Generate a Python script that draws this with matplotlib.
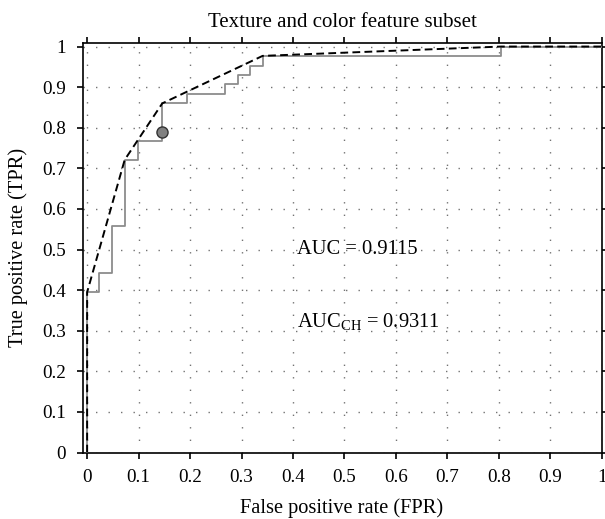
import matplotlib
matplotlib.use("Agg")
import matplotlib.pyplot as plt

# ROC curve corners (step curve)
fpr = [0, 0, 0.024, 0.049, 0.073, 0.098, 0.146, 0.195, 0.268, 0.293, 0.317, 0.341, 0.805, 1.0]
tpr = [0, 0.395, 0.442, 0.558, 0.721, 0.767, 0.860, 0.884, 0.907, 0.930, 0.953, 0.977, 1.0, 1.0]

# convex hull of the ROC curve
hull_fpr = [0, 0, 0.073, 0.146, 0.341, 0.805, 1.0]
hull_tpr = [0, 0.395, 0.721, 0.860, 0.977, 1.0, 1.0]

# operating point
op_fpr = [0.146]
op_tpr = [0.789]

auc = 0.9115
auc_ch = 0.9311
ticks = [0, 0.1, 0.2, 0.3, 0.4, 0.5, 0.6, 0.7, 0.8, 0.9, 1]
tick_labels = ["0", "0.1", "0.2", "0.3", "0.4", "0.5", "0.6", "0.7", "0.8", "0.9", "1"]

plt.rcParams['font.family'] = ['Liberation Serif', 'DejaVu Serif']
plt.rcParams['mathtext.fontset'] = 'custom'
plt.rcParams['mathtext.rm'] = 'Liberation Serif'
plt.rcParams['mathtext.it'] = 'Liberation Serif:italic'

fig = plt.figure(figsize=(6.05, 5.19), dpi=100)
ax = fig.add_axes([82.5 / 605, 1 - 452.5 / 519, (601.7 - 82.5) / 605, (452.5 - 43.3) / 519])

ax.step(fpr, tpr, where='post', color='0.55', lw=1.3, zorder=3)
ax.plot(hull_fpr, hull_tpr, color='black', lw=1.4, dashes=(4, 2.2), zorder=4)
ax.plot(op_fpr, op_tpr, 'o', ms=8, mfc='0.5', mec='0.2', mew=1.0, zorder=5)

ax.text(0.408, 0.49, f"AUC = {auc}", fontsize=14.8, va='baseline')
ax.text(0.408, 0.309, r"AUC$_{\mathrm{CH}}$ = " + f"{auc_ch}", fontsize=14.8, va='baseline')

ax.set_xlim(-0.009, 1.0)
ax.set_ylim(0, 1.008)
ax.set_xticks(ticks)
ax.set_xticklabels(tick_labels)
ax.set_yticks(ticks)
ax.set_yticklabels(tick_labels)
ax.tick_params(direction='out', length=4, width=1.2, labelsize=13.8, pad=8,
               top=True, right=True)
ax.grid(True, color='0.45', lw=1.0, linestyle=(0, (1, 8)))
for s in ax.spines.values():
    s.set_linewidth(1.2)

xc = 342 / 605
fig.text(xc, 1 - 27 / 519, "Texture and color feature subset", ha='center', va='baseline', fontsize=15)
fig.text(xc, 1 - 513 / 519, "False positive rate (FPR)", ha='center', va='baseline', fontsize=14.7)
fig.text(18 / 605, 1 - 247 / 519, "True positive rate (TPR)", ha='center', va='center',
         rotation=90, fontsize=14.7)

fig.savefig("out.png", dpi=100)
